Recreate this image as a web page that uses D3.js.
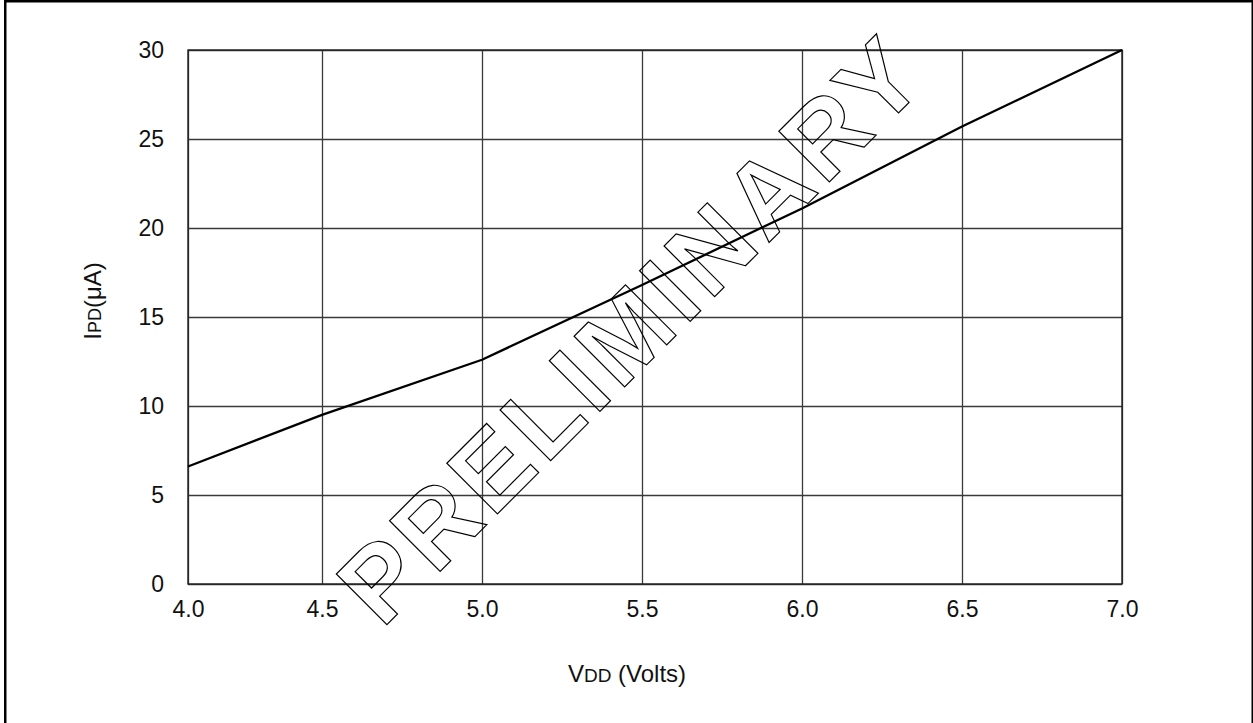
<!DOCTYPE html>
<html>
<head>
<meta charset="utf-8">
<script src="https://cdn.jsdelivr.net/npm/d3@7"></script>
<style>
	body { margin: 0; background: #fff; }
	svg { display: block; }
</style>
</head>
<body>
<div id="chart"></div>
<script>
// supply current vs supply voltage
const xTicks = [4.0, 4.5, 5.0, 5.5, 6.0, 6.5, 7.0]
const yTicks = [0, 5, 10, 15, 20, 25, 30]
const vdd = [4.0, 4.5, 5.0, 5.5, 6.0, 6.5, 7.0]
const ipd = [6.6, 9.5, 12.6, 16.8, 21.1, 25.7, 30.0]
const watermark = "PRELIMINARY"

const width = 1253
const height = 723
const margin = ({top: 50, right: 131, bottom: 139, left: 188})
const font = "'Liberation Sans', Arial, sans-serif"

const svg = d3.select("#chart")
	.append("svg")
		.attr("width", width)
		.attr("height", height)

// outer frame of the figure
svg.append("rect")
	.attr("x", 5.25)
	.attr("y", 1.25)
	.attr("width", 1247.5)
	.attr("height", 800)
	.attr("fill", "none")
	.attr("stroke", "#000")
	.attr("stroke-width", 2.5)

// the first half volt is drawn narrower than the rest in the original
const x = d3.scaleLinear()
	.domain([4.0, 4.5, 7.0])
	.range([margin.left, 322, width - margin.right])

const y = d3.scaleLinear()
	.domain([0, 30])
	.range([height - margin.bottom, margin.top])

const plotW = width - margin.left - margin.right
const plotH = height - margin.top - margin.bottom

const styleAxis = g => g
	.call(g => g.select(".domain").remove())
	.call(g => g.selectAll(".tick line")
		.attr("stroke", "#3a3a3a")
		.attr("stroke-width", 1.3))
	.call(g => g.selectAll(".tick text")
		.attr("fill", "#111")
		.attr("font-family", font)
		.attr("font-size", 23))

svg.append("g")
	.attr("transform", `translate(0,${height - margin.bottom})`)
	.call(d3.axisBottom(x).tickValues(xTicks).tickFormat(d3.format(".1f"))
		.tickSize(-plotH).tickPadding(17))
	.call(styleAxis)

svg.append("g")
	.attr("transform", `translate(${margin.left},0)`)
	.call(d3.axisLeft(y).tickValues(yTicks)
		.tickSize(-plotW).tickPadding(24))
	.call(styleAxis)

// plot border
svg.append("rect")
	.attr("x", margin.left)
	.attr("y", margin.top)
	.attr("width", plotW)
	.attr("height", plotH)
	.attr("fill", "none")
	.attr("stroke", "#222")
	.attr("stroke-width", 1.4)

// outlined watermark
svg.append("text")
	.attr("transform", "translate(631,328) rotate(-45)")
	.attr("y", 37)
	.attr("text-anchor", "middle")
	.attr("font-family", font)
	.attr("font-weight", "bold")
	.attr("font-size", 104)
	.attr("letter-spacing", 6)
	.attr("fill", "none")
	.attr("stroke", "#000")
	.attr("stroke-width", 1.2)
	.text(watermark)

const line = d3.line()
	.x((d, i) => x(vdd[i]))
	.y(d => y(d))

svg.append("path")
	.datum(ipd)
	.attr("fill", "none")
	.attr("stroke", "#000")
	.attr("stroke-width", 2.3)
	.attr("stroke-linejoin", "round")
	.attr("d", line)

// axis titles, with the small subscript-like letters
const xLabel = svg.append("text")
	.attr("x", 627)
	.attr("y", 682)
	.attr("text-anchor", "middle")
	.attr("font-family", font)
	.attr("font-size", 24)
	.attr("fill", "#111")
xLabel.append("tspan").text("V")
xLabel.append("tspan").attr("font-size", 19).text("DD")
xLabel.append("tspan").text(" (Volts)")

const yLabel = svg.append("text")
	.attr("transform", "translate(101,301) rotate(-90)")
	.attr("text-anchor", "middle")
	.attr("font-family", font)
	.attr("font-size", 24)
	.attr("fill", "#111")
yLabel.append("tspan").text("I")
yLabel.append("tspan").attr("font-size", 18).text("PD")
yLabel.append("tspan").text("(\u03bcA)")
</script>
</body>
</html>
